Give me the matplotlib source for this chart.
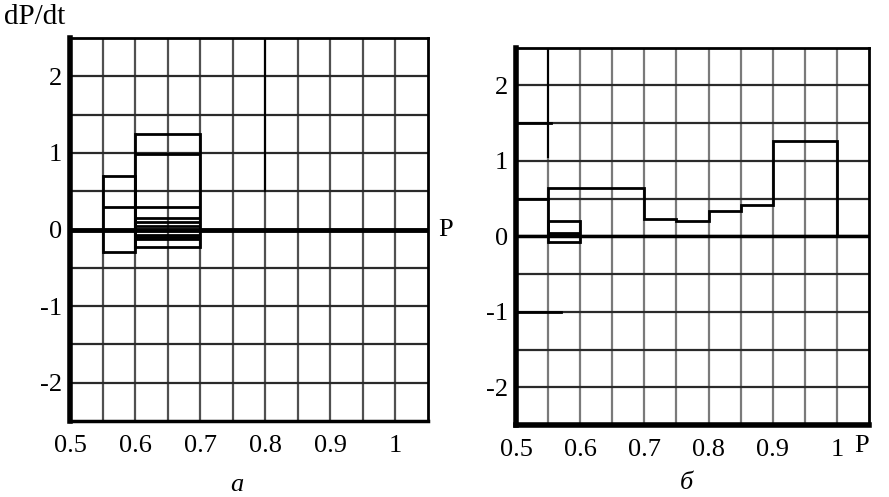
import numpy as np
import matplotlib
matplotlib.use('agg')
import matplotlib.pyplot as plt

plt.rcParams['font.family'] = ['Liberation Serif', 'DejaVu Serif']

# axis ticks
xticks = [0.5, 0.6, 0.7, 0.8, 0.9, 1.0]
xticklabels = ['0.5', '0.6', '0.7', '0.8', '0.9', '1']
yticks = [-2, -1, 0, 1, 2]
yticklabels = ['-2', '-1', '0', '1', '2']

# panel a: two stacks of horizontal levels
a_box1_x = [0.55, 0.60]
a_box1_levels = [0.70, 0.30, 0.0, -0.30]
a_box2_x = [0.60, 0.70]
a_box2_levels = [1.25, 0.98, 0.30, 0.15, 0.10, 0.05, 0.0, -0.07, -0.10, -0.13, -0.23]

# panel b: step function and small box
b_edges = [0.55, 0.70, 0.75, 0.80, 0.85, 0.90, 1.00]
b_values = [0.64, 0.23, 0.20, 0.34, 0.42, 1.26]
b_box_x = [0.55, 0.60]
b_box_levels = [0.20, 0.05, 0.02, -0.07]

fs = 19
fig = plt.figure(figsize=(8.89, 4.97), dpi=100)
ax1 = fig.add_axes([0.0787, 0.1529, 0.4027, 0.7706])
ax2 = fig.add_axes([0.5804, 0.1449, 0.3971, 0.7591])


def setup(ax, vcol):
    ax.set_xlim(0.5, 1.05)
    ax.set_ylim(-2.5, 2.5)
    for xv in np.arange(0.55, 1.05, 0.05):
        ax.axvline(xv, color=vcol, lw=1.6, zorder=1)
    for yv in np.arange(-2.0, 2.5, 0.5):
        ax.axhline(yv, color='#2a2a2a', lw=1.6, zorder=1)
    ax.set_xticks(xticks)
    ax.set_xticklabels(xticklabels, fontsize=fs)
    ax.set_yticks(yticks)
    ax.set_yticklabels(yticklabels, fontsize=fs)
    ax.tick_params(length=0)
    ax.tick_params(axis='x', pad=10)
    ax.tick_params(axis='y', pad=6)
    for s in ax.spines.values():
        s.set_color('black')
        s.set_linewidth(2)
    ax.spines['left'].set_linewidth(4)


def levels_box(ax, xr, levels, lw=2.0):
    for lv in levels:
        ax.plot(xr, [lv, lv], color='black', lw=lw, zorder=3, solid_capstyle='butt')
    lo, hi = min(levels), max(levels)
    for xv in xr:
        ax.plot([xv, xv], [lo, hi], color='black', lw=lw, zorder=3)


# ---- panel a
setup(ax1, '#505050')
ax1.spines['bottom'].set_linewidth(2.5)
ax1.axhline(0, color='black', lw=3.5, zorder=2)
ax1.plot([0.8, 0.8], [0.5, 2.5], color='black', lw=1.5, zorder=2)
levels_box(ax1, a_box1_x, a_box1_levels)
levels_box(ax1, a_box2_x, a_box2_levels)
ax1.text(1.066, 0, 'P', fontsize=fs, va='center', ha='left', clip_on=False)

# ---- panel b
setup(ax2, '#7a7a7a')
ax2.spines['bottom'].set_linewidth(4)
ax2.axhline(0, color='black', lw=2.5, zorder=2)
ax2.plot([0.55, 0.55], [1.05, 2.5], color='black', lw=1.5, zorder=2)
for yv, x1 in [(1.5, 0.555), (0.5, 0.55), (-1.0, 0.57)]:
    ax2.plot([0.5, x1], [yv, yv], color='black', lw=2, zorder=2)
ax2.stairs(b_values, b_edges, baseline=0, color='black', lw=2.0, zorder=3)
levels_box(ax2, b_box_x, b_box_levels)

fig.text(862 / 889, 1 - 446 / 497, 'P', fontsize=fs, ha='center', va='center')
fig.text(0.004, 1 - 17 / 497, 'dP/dt', fontsize=21, ha='left', va='center')
fig.text(237 / 889, 1 - 485 / 497, 'а', fontsize=fs, style='italic', ha='center', va='center')
fig.text(686 / 889, 1 - 483 / 497, 'б', fontsize=fs, style='italic', ha='center', va='center')

fig.savefig('out.png', dpi=100)
